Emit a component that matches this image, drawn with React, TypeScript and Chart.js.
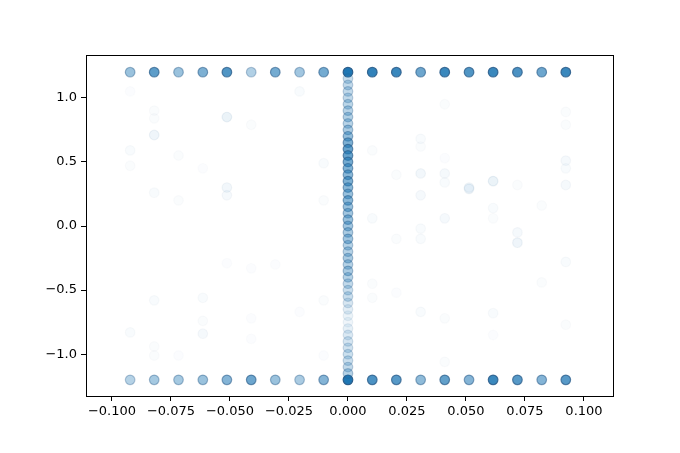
import React, { useEffect, useRef } from "react";
import { Chart, registerables } from "chart.js";

Chart.register(...registerables);

// x positions of the point columns
const xCols = [
  -0.0923, -0.0821, -0.0718, -0.0615, -0.0513, -0.041, -0.0308, -0.0205, -0.0103, 0,
  0.0103, 0.0205, 0.0308, 0.041, 0.0513, 0.0615, 0.0718, 0.0821, 0.0923,
];
// opacity of the saturated row at y = 1.2 (one per column)
const topAlpha = [0.45, 0.72, 0.45, 0.58, 0.78, 0.35, 0.62, 0.42, 0.62, 1.0, 0.92, 0.88, 0.65, 0.88, 0.78, 0.88, 0.8, 0.65, 0.88];
// opacity of the saturated row at y = -1.2
const bottomAlpha = [0.33, 0.4, 0.4, 0.45, 0.55, 0.65, 0.45, 0.38, 0.55, 1.0, 0.8, 0.75, 0.5, 0.7, 0.55, 0.88, 0.75, 0.55, 0.75];
const topY = 1.2;
const bottomY = -1.2;

// column at x = 0
const centerY = [
  1.15, 1.1, 1.05, 1.0, 0.95, 0.9, 0.85, 0.8, 0.75, 0.7, 0.65, 0.6, 0.55, 0.5, 0.45, 0.4,
  0.35, 0.3, 0.25, 0.2, 0.15, 0.1, 0.05, 0.0, -0.05, -0.1, -0.15, -0.2, -0.25, -0.3, -0.35,
  -0.4, -0.45, -0.5, -0.55, -0.6, -0.65, -0.7, -0.75, -0.8, -0.85, -0.9, -0.95, -1.0, -1.05,
  -1.1, -1.15,
];
const centerAlpha = [
  0.25, 0.28, 0.28, 0.28, 0.3, 0.32, 0.35, 0.32, 0.38, 0.48, 0.58, 0.68, 0.68, 0.62, 0.56, 0.52,
  0.58, 0.52, 0.46, 0.52, 0.46, 0.42, 0.46, 0.42, 0.38, 0.42, 0.33, 0.33, 0.38, 0.33, 0.38,
  0.33, 0.28, 0.24, 0.24, 0.18, 0.13, 0.09, 0.07, 0.11, 0.16, 0.19, 0.21, 0.23, 0.24,
  0.28, 0.33,
];

// faint scattered points
const faintX = [
  -0.0923, -0.0821, -0.0821, -0.0821, -0.0513, -0.041, -0.0205, -0.0923, -0.0923, -0.0718,
  -0.0615, -0.0103, -0.0821, -0.0718, -0.0513, -0.0513, -0.0103, -0.0513, -0.041, -0.0308,
  -0.0821, -0.0615, -0.0615, -0.0615, -0.0923, -0.0821, -0.0821, -0.0718, -0.041, -0.041,
  -0.0103, -0.0103, -0.0205,
  0.041, 0.0103, 0.0308, 0.0308, 0.041, 0.0513, 0.0923, 0.0923, 0.0923, 0.0923, 0.0923,
  0.0205, 0.0308, 0.0308, 0.041, 0.041, 0.0513, 0.0615, 0.0718, 0.0103, 0.0205, 0.0308,
  0.0308, 0.041, 0.0615, 0.0615, 0.0821, 0.0718, 0.0718, 0.0103, 0.0103, 0.0205, 0.0308,
  0.041, 0.0615, 0.0615, 0.0923, 0.0923, 0.041, 0.0821,
];
const faintY = [
  1.05, 0.9, 0.84, 0.71, 0.85, 0.79, 1.05, 0.59, 0.47, 0.55, 0.45, 0.49, 0.26, 0.2, 0.3,
  0.24, 0.2, -0.29, -0.33, -0.3, -0.58, -0.56, -0.84, -0.74, -0.83, -0.94, -1.01, -1.01,
  -0.88, -0.72, -0.58, -1.01, -0.67,
  0.95, 0.59, 0.68, 0.62, 0.53, 0.3, 0.89, 0.79, 0.51, 0.45, 0.32, 0.4, 0.41, 0.24, 0.41,
  0.34, 0.29, 0.35, 0.32, 0.06, -0.1, -0.02, -0.1, 0.06, 0.14, 0.06, 0.16, -0.13, -0.05,
  -0.45, -0.56, -0.52, -0.67, -0.72, -0.68, -0.85, -0.28, -0.77, -1.06, -0.44,
];
const faintAlpha = [
  0.02, 0.025, 0.025, 0.07, 0.09, 0.025, 0.03, 0.03, 0.025, 0.025, 0.02, 0.03, 0.03, 0.025, 0.06,
  0.045, 0.025, 0.02, 0.02, 0.02, 0.03, 0.03, 0.045, 0.025, 0.03, 0.025, 0.025, 0.02, 0.02, 0.02,
  0.025, 0.02, 0.02,
  0.025, 0.025, 0.03, 0.025, 0.02, 0.06, 0.025, 0.025, 0.045, 0.03, 0.045, 0.025, 0.06, 0.045, 0.045,
  0.03, 0.07, 0.09, 0.025, 0.03, 0.025, 0.03, 0.03, 0.045, 0.03, 0.025, 0.025, 0.07, 0.045,
  0.025, 0.025, 0.02, 0.03, 0.025, 0.03, 0.02, 0.03, 0.025, 0.025, 0.025,
];

const xTicks = [-0.1, -0.075, -0.05, -0.025, 0, 0.025, 0.05, 0.075, 0.1];
const yTicks = [-1.0, -0.5, 0.0, 0.5, 1.0];

const fill = (a: number) => `rgba(31,119,180,${a})`;
const edge = (a: number) => `rgba(45,95,140,${a})`;

const frame = {
  id: "frame",
  afterDraw(chart: any) {
    const { ctx, chartArea } = chart;
    ctx.save();
    ctx.strokeStyle = "#000";
    ctx.lineWidth = 1;
    ctx.strokeRect(
      Math.round(chartArea.left) + 0.5,
      Math.round(chartArea.top) + 0.5,
      Math.round(chartArea.right - chartArea.left),
      Math.round(chartArea.bottom - chartArea.top)
    );
    ctx.restore();
  },
};

export default function App() {
  const ref = useRef<HTMLCanvasElement>(null);
  useEffect(() => {
    document.body.style.margin = "0";
    const mk = (xs: number[], ys: number[], al: number[]) => ({
      data: xs.map((x, i) => ({ x, y: ys[i] })),
      backgroundColor: al.map(fill),
      borderColor: al.map(edge),
      borderWidth: 1.2,
      pointRadius: 4.8,
    });
    const fmt = (d: number) => (v: any) => {
      const s = Number(v).toFixed(d);
      return s.startsWith("-") ? "\u2212" + s.slice(1) : s;
    };
    const chart = new Chart(ref.current!, {
      type: "scatter",
      data: {
        datasets: [
          mk(faintX, faintY, faintAlpha),
          mk(centerY.map(() => 0), centerY, centerAlpha),
          mk(xCols, xCols.map(() => topY), topAlpha),
          mk(xCols, xCols.map(() => bottomY), bottomAlpha),
        ] as any,
      },
      options: {
        animation: false,
        responsive: false,
        events: [],
        layout: { padding: { left: 0, top: 55, right: 67, bottom: 0 } },
        plugins: { legend: { display: false }, tooltip: { enabled: false } },
        scales: {
          x: {
            type: "linear",
            min: -0.111,
            max: 0.1123,
            afterFit: (s: any) => { s.height = 57; },
            afterBuildTicks: (s: any) => { s.ticks = xTicks.map((v) => ({ value: v })); },
            grid: { drawOnChartArea: false, drawTicks: true, tickLength: 5, color: "#000", lineWidth: 1 },
            border: { display: false },
            ticks: {
              callback: fmt(3),
              color: "#000",
              padding: 3,
              maxRotation: 0,
              autoSkip: false,
              font: { family: "DejaVu Sans", size: 13 },
            },
          },
          y: {
            type: "linear",
            min: -1.326,
            max: 1.334,
            afterFit: (s: any) => { s.width = 86; },
            afterBuildTicks: (s: any) => { s.ticks = yTicks.map((v) => ({ value: v })); },
            grid: { drawOnChartArea: false, drawTicks: true, tickLength: 5, color: "#000", lineWidth: 1 },
            border: { display: false },
            ticks: {
              callback: fmt(1),
              color: "#000",
              padding: 4,
              autoSkip: false,
              font: { family: "DejaVu Sans", size: 13 },
            },
          },
        },
      },
      plugins: [frame],
    });
    return () => chart.destroy();
  }, []);
  return (
    <div style={{ position: "fixed", left: 0, top: 0, width: 680, height: 453, background: "#fff" }}>
      <canvas ref={ref} width={680} height={453} style={{ width: 680, height: 453 }} />
    </div>
  );
}
